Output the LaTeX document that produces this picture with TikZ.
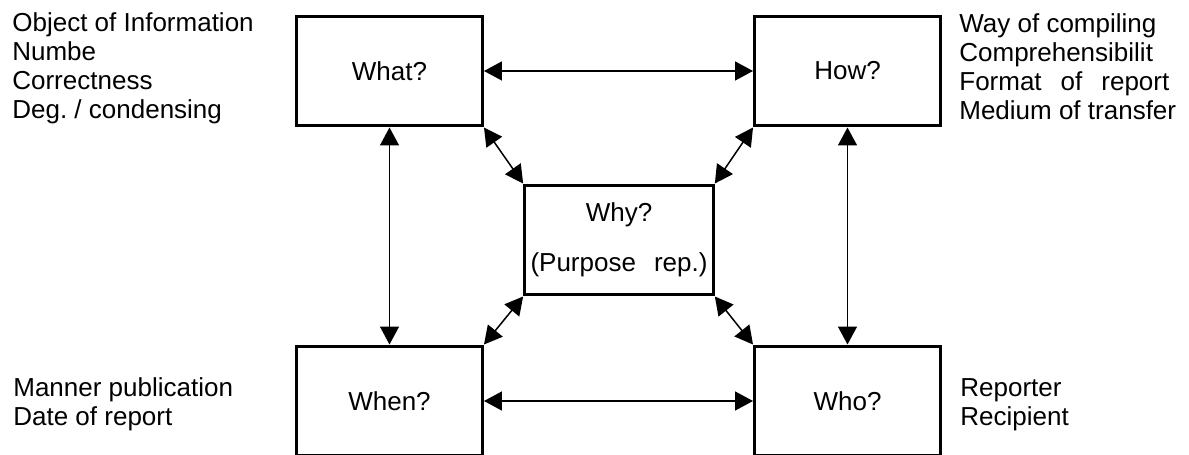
\documentclass[tikz,border=0pt]{standalone}
\usepackage{fontspec}
\setmainfont{Liberation Sans}
\usetikzlibrary{arrows.meta}
\begin{document}
\begin{tikzpicture}[x=0.02cm, y=-0.02cm,
    font=\fontsize{14.8pt}{16.6pt}\selectfont,
    box/.style={draw=black, line width=0.06cm, minimum width=3.72cm, minimum height=2.2cm, align=center},
    side/.style={inner sep=0pt, anchor=north west, align=left},
    link/.style={black, line width=0.03cm, {Triangle[length=0.36cm, width=0.38cm]}-{Triangle[length=0.36cm, width=0.38cm]}}]
    \useasboundingbox (0,0) rectangle (1189,455);
    \node[box] (what) at (389.5,71) {What?};
    \node[box] (how) at (847.5,71) {How?};
    \node[box] (why) at (619,240) {Why?\\[0.42cm](Purpose\hspace{0.36cm}rep.)};
    \node[box] (when) at (389.5,401) {When?};
    \node[box] (who) at (847.5,401) {Who?};
    \node[side] (whatinfo) at (12,12) {Object of Information\\Numbe\\Correctness\\Deg.\ / condensing};
    \node[side] (howinfo) at (959,13) {Way of compiling\\Comprehensibilit\\Format\hspace{0.38cm}of\hspace{0.38cm}report\\Medium of transfer};
    \node[side] (wheninfo) at (13,377) {Manner publication\\Date of report};
    \node[side] (whoinfo) at (960,378) {Reporter\\Recipient};
    \draw[link] (what.east) to (how.west);
    \draw[link] (when.east) to (who.west);
    \draw[link] (what.south) to (when.north);
    \draw[link] (how.south) to (who.north);
    \draw[link] (what.south east) to (why.north west);
    \draw[link] (how.south west) to (why.north east);
    \draw[link] (why.south west) to (when.north east);
    \draw[link] (why.south east) to (who.north west);
\end{tikzpicture}
\end{document}
